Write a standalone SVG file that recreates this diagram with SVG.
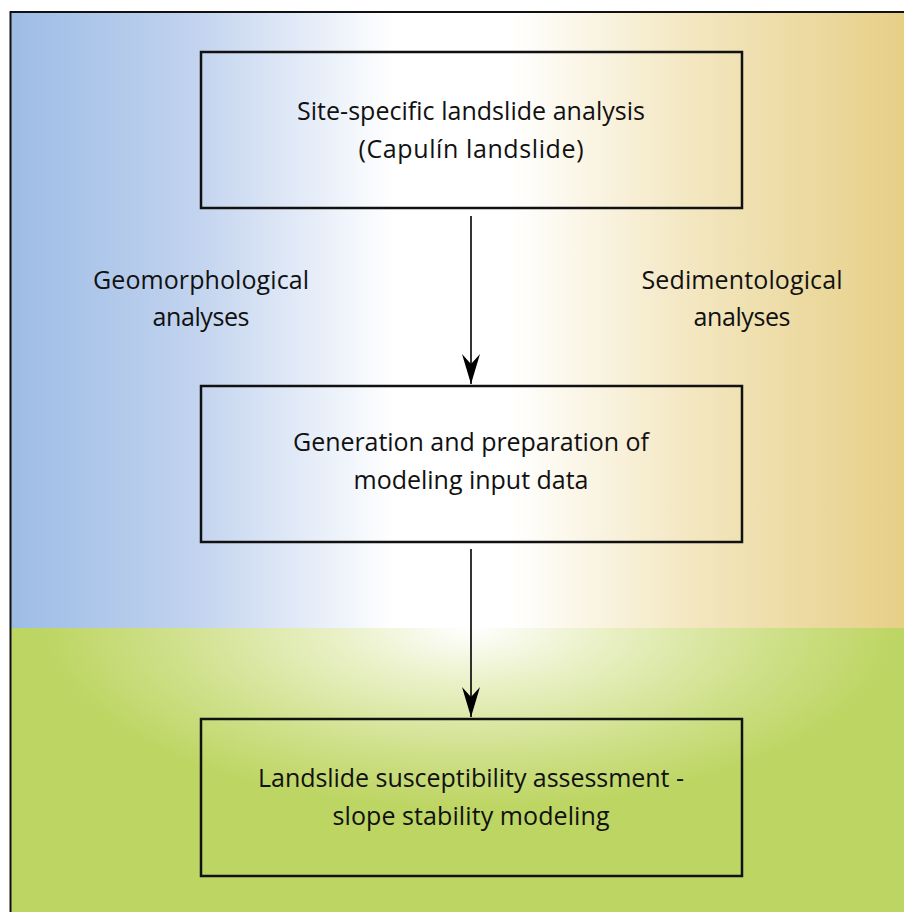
<svg xmlns="http://www.w3.org/2000/svg" width="904" height="912" viewBox="0 0 904 912">
  <defs>
    <linearGradient id="topGrad" x1="10" y1="0" x2="904" y2="0" gradientUnits="userSpaceOnUse">
      <stop offset="0" stop-color="#9dbce6"/>
      <stop offset="0.2" stop-color="#c0d2ee"/>
      <stop offset="0.43" stop-color="#ffffff"/>
      <stop offset="0.56" stop-color="#ffffff"/>
      <stop offset="0.75" stop-color="#f4e8c4"/>
      <stop offset="1" stop-color="#e6cf86"/>
    </linearGradient>
    <radialGradient id="botGrad" gradientUnits="userSpaceOnUse" cx="470" cy="628" r="430" gradientTransform="translate(0 628) scale(1 0.42) translate(0 -628)">
      <stop offset="0" stop-color="#ffffff"/>
      <stop offset="0.3" stop-color="#eaf1c8"/>
      <stop offset="0.7" stop-color="#cfe08a"/>
      <stop offset="1" stop-color="#bdd562"/>
    </radialGradient>
    <marker id="arrow" viewBox="0 0 30 18" refX="30" refY="9" markerWidth="30" markerHeight="18" markerUnits="userSpaceOnUse" orient="auto">
      <path d="M30,9 L0,0 L10,9 L0,18 Z" fill="#000"/>
    </marker>
    <style>
      .box { fill: none; stroke: #111; stroke-width: 2.5; }
      .label { font-family: "Open Sans", "Liberation Sans", sans-serif; font-size: 25px; fill: #111; text-anchor: middle; }
      .conn { stroke: #000; stroke-width: 1.6; fill: none; }
    </style>
  </defs>

  <g id="background">
    <rect x="0" y="0" width="904" height="912" fill="#ffffff"/>
    <rect x="10" y="12" width="894" height="616" fill="url(#topGrad)"/>
    <rect x="10" y="628" width="894" height="284" fill="#bdd562"/>
    <rect x="10" y="628" width="894" height="284" fill="url(#botGrad)"/>
    <path d="M10.5,912 L10.5,12 L904,12" fill="none" stroke="#111" stroke-width="2"/>
  </g>

  <g id="side-labels">
    <g id="geomorphological">
      <text class="label" x="201" y="289" textLength="216">Geomorphological</text>
      <text class="label" x="201" y="326" textLength="97">analyses</text>
    </g>
    <g id="sedimentological">
      <text class="label" x="742" y="289" textLength="201">Sedimentological</text>
      <text class="label" x="742" y="326" textLength="97">analyses</text>
    </g>
  </g>

  <g id="node-site">
    <rect class="box" x="201" y="52" width="541" height="156"/>
    <text class="label" x="471" y="120" textLength="348">Site-specific landslide analysis</text>
    <text class="label" x="471" y="158" textLength="225">(Capulín landslide)</text>
  </g>

  <g id="node-input">
    <rect class="box" x="201" y="386" width="541" height="156"/>
    <text class="label" x="471" y="451" textLength="356">Generation and preparation of</text>
    <text class="label" x="471" y="489" textLength="235">modeling input data</text>
  </g>

  <g id="node-susceptibility">
    <rect class="box" x="201" y="719" width="541" height="157"/>
    <text class="label" x="471" y="787" textLength="426">Landslide susceptibility assessment -</text>
    <text class="label" x="471" y="825" textLength="277">slope stability modeling</text>
  </g>

  <g id="connectors">
    <line class="conn" x1="471" y1="216" x2="471" y2="384" marker-end="url(#arrow)"/>
    <line class="conn" x1="471" y1="549" x2="471" y2="717" marker-end="url(#arrow)"/>
  </g>
</svg>
